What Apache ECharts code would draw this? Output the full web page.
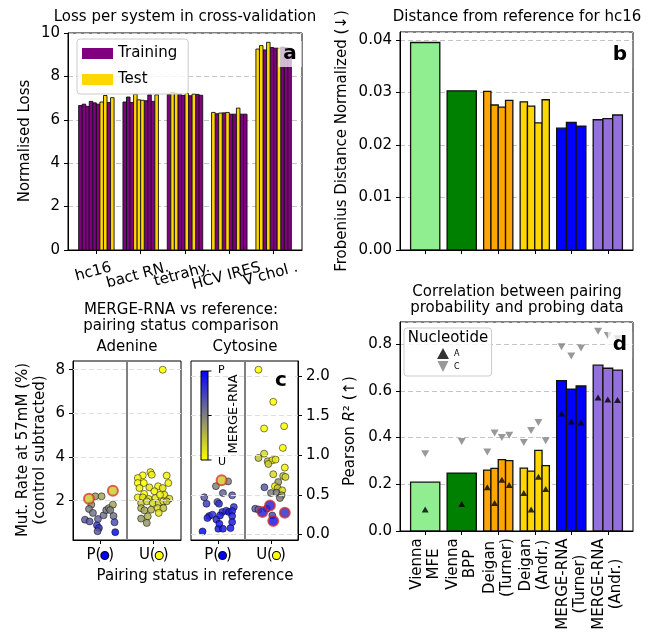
<!DOCTYPE html>
<html><head><meta charset="utf-8">
<script src="https://cdn.jsdelivr.net/npm/echarts@6/dist/echarts.min.js"></script>
<style>html,body{margin:0;padding:0;background:#fff}#c{width:652px;height:633px}</style>
</head><body><div id="c"></div>
<script>
// ---------------- DATA ----------------
// Panel a: loss per system, 10 cross-validation folds each
const systems = ['hc16', 'bact RN.', 'tetrahy.', 'HCV IRES', 'V chol .'];
const lossHc16    = [6.66, 6.72, 6.62, 6.85, 6.78, 6.72, 6.82, 7.12, 6.80, 7.02];
const lossBact    = [6.82, 7.05, 6.80, 7.18, 6.92, 6.90, 6.88, 7.15, 6.85, 7.15];
const lossTetra   = [7.17, 7.26, 7.22, 7.18, 7.12, 7.21, 7.11, 7.18, 7.17, 7.13];
const lossHCV     = [6.34, 6.28, 6.31, 6.32, 6.34, 6.26, 6.26, 6.54, 6.26, 6.26];
const lossVchol   = [9.26, 9.42, 9.22, 9.57, 9.33, 9.30, 9.30, 9.35, 9.32, 9.30];
// 1 = system used as test in that fold, 0 = training
const testHc16  = [0,0,0,0,0,0,1,1,0,1];
const testBact  = [0,0,0,1,1,1,0,0,0,1];
const testTetra = [0,1,1,0,0,1,0,1,0,0];
const testHCV   = [1,0,1,0,1,0,0,1,0,0];
const testVchol = [1,1,0,1,0,0,1,0,0,0];

// Panels b & d: methods
const methods = ['Vienna\nMFE', 'Vienna\nBPP', 'Deigan\n(Turner)', 'Deigan\n(Andr.)', 'MERGE-RNA\n(Turner)', 'MERGE-RNA\n(Andr.)'];
const methodColors = ['#90EE90', '#008000', '#FFA500', '#FFD700', '#0000FF', '#9370DB'];
// Panel b: Frobenius distance
const frobViennaMFE   = [0.0395];
const frobViennaBPP   = [0.0303];
const frobDeiganTurner= [0.0302, 0.0276, 0.0272, 0.0285];
const frobDeiganAndr  = [0.0282, 0.0274, 0.0242, 0.0286];
const frobMergeTurner = [0.0232, 0.0243, 0.0236];
const frobMergeAndr   = [0.0248, 0.0250, 0.0257];
// Panel d: Pearson R^2 (bars = all, A = adenine, C = cytosine)
const r2ViennaMFE    = [0.209];
const r2ViennaBPP    = [0.248];
const r2DeiganTurner = [0.261, 0.268, 0.306, 0.301];
const r2DeiganAndr   = [0.269, 0.256, 0.345, 0.280];
const r2MergeTurner  = [0.644, 0.607, 0.621];
const r2MergeAndr    = [0.710, 0.697, 0.689];
const r2A_ViennaMFE    = [0.092];
const r2A_ViennaBPP    = [0.116];
const r2A_DeiganTurner = [0.187, 0.120, 0.220, 0.197];
const r2A_DeiganAndr   = [0.163, 0.092, 0.232, 0.180];
const r2A_MergeTurner  = [0.503, 0.469, 0.465];
const r2A_MergeAndr    = [0.572, 0.563, 0.561];
const r2C_ViennaMFE    = [0.331];
const r2C_ViennaBPP    = [0.383];
const r2C_DeiganTurner = [0.338, 0.420, 0.400, 0.410];
const r2C_DeiganAndr   = [0.379, 0.430, 0.465, 0.386];
const r2C_MergeTurner  = [0.789, 0.749, 0.784];
const r2C_MergeAndr    = [0.855, 0.837, 0.823];

// Panel c: [jittered x (0=P,1=U), mutation rate, MERGE-RNA unpaired prob, mismatch]
const pairLabels = ['P', 'U'];
const adenineP = [
 [-0.211,2.09,0.8,1],[0.236,2.46,0.8,1],[-0.093,2.20,0.6,0],[0.025,2.20,0.65,0],[-0.168,1.82,0.55,0],
 [-0.211,1.62,0.5,0],[-0.286,1.13,0.35,0],[-0.199,1.05,0.35,0],[-0.043,1.16,0.4,0],[-0.062,0.87,0.25,0],
 [-0.025,0.75,0.2,0],[-0.05,0.60,0.35,0],[0.062,1.33,0.45,0],[0.112,1.57,0.45,0],[0.161,1.66,0.55,0],
 [0.236,1.82,0.65,0],[0.186,1.57,0.5,0],[0.248,1.30,0.45,0],[0.267,1.01,0.3,0],[0.280,0.56,0.05,0],
 [-0.137,1.44,0.45,0]
];
const adenineU = [
 [0.938,3.31,0.95,0],[0.963,3.19,0.95,0],[0.795,3.16,1,0],[0.702,3.04,0.95,0],[1.242,3.15,0.95,0],
 [0.702,2.81,1,0],[0.814,2.81,1,0],[1.273,2.81,0.95,0],[0.733,2.58,0.95,0],[0.919,2.61,0.9,0],
 [1.081,2.66,0.95,0],[1.168,2.58,0.9,0],[0.82,2.31,1,0],[1.012,2.43,0.95,0],[1.199,2.27,0.9,0],
 [0.702,2.15,0.95,0],[0.795,2.15,0.9,0],[0.907,2.08,0.85,0],[1.031,2.12,0.9,0],[1.118,2.27,0.95,0],
 [1.292,2.09,0.85,0],[0.764,1.89,0.8,0],[0.87,1.97,0.85,0],[0.981,1.89,0.85,0],[1.093,1.89,0.8,0],
 [1.18,1.97,0.9,0],[1.242,1.97,0.75,0],[0.764,1.66,0.7,0],[0.826,1.56,0.65,0],[0.95,1.59,0.7,0],
 [1.075,1.66,0.85,0],[1.18,1.66,0.75,0],[1.093,1.44,0.9,0],[0.764,1.18,0.6,0],[0.888,1.28,0.7,0],
 [0.87,0.98,0.6,0],[1.168,8.0,1.0,0]
];
const cytosineP = [
 [0.068,0.684,0.8,1],[0.19,0.67,0.5,0],[-0.04,0.61,0.5,0],[0.093,0.523,0.4,0],[0.267,0.494,0.35,0],
 [-0.26,0.47,0.35,0],[-0.217,0.388,0.25,0],[-0.012,0.41,0.35,0],[0.019,0.388,0.2,0],[0.298,0.346,0.2,0],
 [-0.168,0.232,0.15,0],[-0.2,0.207,0.15,0],[-0.106,0.249,0.2,0],[-0.031,0.19,0.15,0],[0.081,0.283,0.2,0],
 [0.155,0.30,0.2,0],[0.205,0.283,0.1,0],[0.267,0.295,0.15,0],[0.267,0.232,0.15,0],[0.037,0.24,0.1,0],
 [0.267,0.156,0.1,0],[0.006,0.072,0.1,0],[0.093,0.072,0.1,0],[0.236,0.08,0.1,0],[-0.292,0.038,0.05,0],
 [0.025,0.135,0.1,0]
];
const cytosineU = [
 [0.764,2.08,1,0],[1.043,1.675,1,0],[0.87,1.338,1,0],[1.248,1.367,1,0],[1.224,1.093,1,0],
 [0.87,1.02,0.85,0],[0.764,0.966,0.75,0],[0.938,0.924,0.75,0],[1.025,0.937,0.9,0],[1.087,0.945,0.9,0],
 [0.95,0.89,0.8,0],[1.261,0.844,0.95,0],[1.043,0.76,0.85,0],[1.23,0.738,0.75,0],[1.273,0.726,0.85,0],
 [1.137,0.662,0.6,0],[1.075,0.608,0.95,0],[1.124,0.586,0.75,0],[1.211,0.557,0.85,0],[0.876,0.595,0.35,0],
 [1.0,0.523,0.5,0],[1.106,0.527,0.5,0],[1.199,0.494,0.6,0],[1.168,0.46,0.5,0],[0.702,0.325,0.35,0],
 [0.764,0.316,0.4,0],[0.919,0.325,0.2,0],[1.025,0.24,0.3,0],
 [0.839,0.283,0.15,1],[0.981,0.367,0.15,1],[1.043,0.169,0.1,1],[1.261,0.274,0.2,1]
];
const adenineTicks = [2, 4, 6, 8];
const cytosineTicks = [0, 0.5, 1.0, 1.5, 2.0];

// ---------------- HELPERS ----------------
const F = 'DejaVu Sans';
const cmapStops = [[0,0,255],[128,128,128],[255,255,0]];
function cmap(t){
  const s = t <= 0.5 ? 0 : 1;
  const f = t <= 0.5 ? t/0.5 : (t-0.5)/0.5;
  const a = cmapStops[s], b = cmapStops[s+1];
  const c = [0,1,2].map(i => Math.round(a[i] + (b[i]-a[i])*f));
  return 'rgb(' + c.join(',') + ')';
}
function barRender(params, api){
  const x = api.value(0), v = api.value(1), w = api.value(2);
  const p0 = api.coord([x - w/2, v]);
  const p1 = api.coord([x + w/2, 0]);
  const thin = params.seriesName === 'Training' || params.seriesName === 'Test';
  return {type:'rect', shape:{x:p0[0], y:p0[1], width:p1[0]-p0[0], height:p1[1]-p0[1]},
    style:{fill: api.visual('color'), stroke:'#111', lineWidth: thin ? 0.9 : 1.3}};
}
function groupBars(groups, colors){
  const out = [];
  groups.forEach((arr, g) => {
    const n = arr.length, w = 0.8/n;
    arr.forEach((v, j) => {
      const item = {value:[g - 0.4 + w*(j+0.5), v, w]};
      if (colors) item.itemStyle = {color: colors[g]};
      out.push(item);
    });
  });
  return out;
}
function groupPoints(groups){
  const out = [];
  groups.forEach((arr, g) => {
    const n = arr.length, w = 0.8/n;
    arr.forEach((v, j) => out.push([g - 0.4 + w*(j+0.5), v]));
  });
  return out;
}
const lossAll = [lossHc16, lossBact, lossTetra, lossHCV, lossVchol];
const testAll = [testHc16, testBact, testTetra, testHCV, testVchol];
function lossBars(isTest){
  const out = [];
  lossAll.forEach((arr, g) => {
    const n = arr.length, w = 0.8/n;
    arr.forEach((v, j) => { if (testAll[g][j] === isTest) out.push([g - 0.4 + w*(j+0.5), v, w]); });
  });
  return out;
}
const frobGroups = [frobViennaMFE, frobViennaBPP, frobDeiganTurner, frobDeiganAndr, frobMergeTurner, frobMergeAndr];
const r2Groups = [r2ViennaMFE, r2ViennaBPP, r2DeiganTurner, r2DeiganAndr, r2MergeTurner, r2MergeAndr];
const r2AGroups = [r2A_ViennaMFE, r2A_ViennaBPP, r2A_DeiganTurner, r2A_DeiganAndr, r2A_MergeTurner, r2A_MergeAndr];
const r2CGroups = [r2C_ViennaMFE, r2C_ViennaBPP, r2C_DeiganTurner, r2C_DeiganAndr, r2C_MergeTurner, r2C_MergeAndr];

// text measuring (for matplotlib-like label alignment)
const measureCtx = document.createElement('canvas').getContext('2d');
measureCtx.font = '15px "' + F + '"';
const methodRich = {};
methods.forEach((m, i) => {
  const w = Math.max.apply(null, m.split('\n').map(s => measureCtx.measureText(s).width));
  methodRich['m' + i] = {width: Math.ceil(w), align:'center', fontSize:15, fontFamily:F, color:'#000', lineHeight:17};
});
function methodFmt(v){
  const i = Math.round(v);
  return methods[i].split('\n').map(s => '{m' + i + '|' + s + '}').join('\n');
}

const axLine = {show:true, onZero:false, lineStyle:{color:'#000', width:1}};
const tick = {show:true, length:4, lineStyle:{color:'#000', width:1}};
const lab = {color:'#000', fontSize:15, fontFamily:F};
const dashGrid = {show:true, lineStyle:{color:'#c4c4c4', type:[5,3], width:1}};
const gridBox = {show:true, borderColor:'#000', borderWidth:1, backgroundColor:'transparent', containLabel:false};

function scat(data, xi, yi, ring){
  return {type:'scatter', xAxisIndex:xi, yAxisIndex:yi, silent:true, z: ring?5:4,
    symbolSize: ring ? 10 : 7,
    data: data.filter(d => d[3] === (ring?1:0)).map(d => ({value:[d[0], d[1]], itemStyle:{color: cmap(d[2])}})),
    itemStyle:{borderColor: ring ? 'rgba(214,39,40,0.85)' : 'rgba(0,0,0,0.75)', borderWidth: ring ? 2 : 0.8, opacity:0.85}};
}
function cLines(xi, yi, ticks){
  return {type:'scatter', xAxisIndex:xi, yAxisIndex:yi, data:[], silent:true, z:1,
    markLine:{silent:true, symbol:'none', label:{show:false}, animation:false,
      data: ticks.map(t => ({yAxis:t, lineStyle:{color:'#dddddd', type:[5,3], width:1}}))
        .concat([{xAxis:0.5, lineStyle:{color:'#808080', type:'solid', width:2}}])}};
}
const pairRich = {
  pd:{width:7, height:7, borderRadius:4, backgroundColor:'#0000ff', borderColor:'#000', borderWidth:1},
  ud:{width:7, height:7, borderRadius:4, backgroundColor:'#ffff00', borderColor:'#000', borderWidth:1}
};
function pairFmt(v){ const i = Math.round(v); return i === 0 ? 'P({pd|})' : 'U({ud|})'; }

const downTri = 'path://M0,0L10,0L5,10Z';
function txt(id, x, y, text, extra, rot){
  const el = {type:'text', id:id, x:x, y:y, z:100, style:Object.assign({text:text, fontSize:15, fontFamily:F, fill:'#000', align:'center', verticalAlign:'middle'}, extra || {})};
  if (rot) el.rotation = rot;
  return el;
}
function letter(id, x, y, t){
  return txt(id, x, y, t, {fontSize:20, fontWeight:'bold', backgroundColor:'rgba(255,255,255,0.72)', padding:[3,5,3,5]});
}

const option = {
  animation:false,
  backgroundColor:'#fff',
  textStyle:{fontFamily:F},
  grid:[
    Object.assign({left:68, top:33, width:234, height:217}, gridBox),
    Object.assign({left:400, top:32, width:233, height:218}, gridBox),
    Object.assign({left:73, top:361, width:108, height:179}, gridBox),
    Object.assign({left:191, top:361, width:107, height:179}, gridBox),
    Object.assign({left:400, top:322, width:233, height:218}, gridBox)
  ],
  xAxis:[
    {type:'value', gridIndex:0, min:-0.64, max:4.64, axisLine:axLine, splitLine:{show:false},
     axisTick:Object.assign({customValues:[0,1,2,3,4]}, tick), axisLabel:{show:false}},
    {type:'value', gridIndex:1, min:-0.69, max:5.69, axisLine:axLine, splitLine:{show:false},
     axisTick:Object.assign({customValues:[0,1,2,3,4,5]}, tick), axisLabel:{show:false}},
    {type:'value', gridIndex:2, min:-0.51, max:1.51, axisLine:axLine, splitLine:{show:false},
     axisTick:Object.assign({customValues:[0,1]}, tick),
     axisLabel:Object.assign({customValues:[0,1], formatter:pairFmt, rich:pairRich, margin:8, showMinLabel:true, showMaxLabel:true}, lab)},
    {type:'value', gridIndex:3, min:-0.51, max:1.51, axisLine:axLine, splitLine:{show:false},
     axisTick:Object.assign({customValues:[0,1]}, tick),
     axisLabel:Object.assign({customValues:[0,1], formatter:pairFmt, rich:pairRich, margin:8, showMinLabel:true, showMaxLabel:true}, lab)},
    {type:'value', gridIndex:4, min:-0.69, max:5.69, axisLine:axLine, splitLine:{show:false},
     axisTick:Object.assign({customValues:[0,1,2,3,4,5]}, tick),
     axisLabel:Object.assign({customValues:[0,1,2,3,4,5], formatter:methodFmt, rich:methodRich, rotate:90, margin:7, lineHeight:17,
       showMinLabel:true, showMaxLabel:true, hideOverlap:false}, lab)}
  ],
  yAxis:[
    {type:'value', gridIndex:0, min:0, max:10, interval:2, axisLine:axLine, axisTick:tick, axisLabel:lab, splitLine:dashGrid},
    {type:'value', gridIndex:1, min:0, max:0.0415, interval:0.01, axisLine:axLine, axisTick:tick,
     axisLabel:Object.assign({formatter:v => v.toFixed(2), showMaxLabel:false}, lab), splitLine:dashGrid},
    {type:'value', gridIndex:2, min:0.2, max:8.4, axisLine:axLine, splitLine:{show:false},
     axisTick:Object.assign({customValues:adenineTicks}, tick),
     axisLabel:Object.assign({customValues:adenineTicks, formatter:v => String(Math.round(v))}, lab)},
    {type:'value', gridIndex:3, position:'right', min:-0.07, max:2.19, axisLine:axLine, splitLine:{show:false},
     axisTick:Object.assign({customValues:cytosineTicks}, tick),
     axisLabel:Object.assign({customValues:cytosineTicks, formatter:v => v.toFixed(1)}, lab)},
    {type:'value', gridIndex:4, min:0, max:0.895, interval:0.2, axisLine:axLine, axisTick:tick,
     axisLabel:Object.assign({formatter:v => v.toFixed(1), showMaxLabel:false}, lab), splitLine:dashGrid}
  ],
  legend:[
    {left:77, top:39, orient:'vertical', selectedMode:false,
     data:[{name:'Training', icon:'rect'}, {name:'Test', icon:'rect'}],
     itemWidth:31, itemHeight:11, itemGap:11, padding:[7,11,7,5],
     backgroundColor:'rgba(255,255,255,0.8)', borderColor:'#cccccc', borderWidth:1, borderRadius:3,
     itemStyle:{borderWidth:0}, textStyle:{fontSize:15, fontFamily:F, color:'#000'}},
    {left:404, top:328, orient:'vertical', selectedMode:false,
     data:[{name:'A', icon:'triangle'}, {name:'C', icon:downTri}],
     itemWidth:12, itemHeight:11, itemGap:2, padding:[20,32,4,33],
     backgroundColor:'rgba(255,255,255,0.8)', borderColor:'#cccccc', borderWidth:1, borderRadius:3,
     itemStyle:{borderWidth:0}, textStyle:{fontSize:8, fontFamily:F, color:'#000'}}
  ],
  series:[
    {type:'custom', name:'Training', xAxisIndex:0, yAxisIndex:0, renderItem:barRender, clip:true,
     itemStyle:{color:'#800080'}, data:lossBars(0), z:2},
    {type:'custom', name:'Test', xAxisIndex:0, yAxisIndex:0, renderItem:barRender, clip:true,
     itemStyle:{color:'#FFD700'}, data:lossBars(1), z:2},
    {type:'custom', name:'frob', xAxisIndex:1, yAxisIndex:1, renderItem:barRender, clip:true,
     data:groupBars(frobGroups, methodColors), z:2},
    {type:'custom', name:'r2', xAxisIndex:4, yAxisIndex:4, renderItem:barRender, clip:true,
     data:groupBars(r2Groups, methodColors), z:2},
    {type:'scatter', name:'A', xAxisIndex:4, yAxisIndex:4, symbol:'triangle', symbolSize:[7,6],
     itemStyle:{color:'#000'}, data:groupPoints(r2AGroups), z:3, silent:true},
    {type:'scatter', name:'C', xAxisIndex:4, yAxisIndex:4, symbol:downTri, symbolSize:[8,7],
     itemStyle:{color:'#808080'}, data:groupPoints(r2CGroups), z:3, silent:true},
    cLines(2, 2, adenineTicks),
    cLines(3, 3, cytosineTicks),
    scat(adenineP, 2, 2, false), scat(adenineU, 2, 2, false),
    scat(cytosineP, 3, 3, false), scat(cytosineU, 3, 3, false),
    scat(adenineP, 2, 2, true), scat(adenineU, 2, 2, true),
    scat(cytosineP, 3, 3, true), scat(cytosineU, 3, 3, true)
  ],
  graphic:[
    txt('t1', 185, 17, 'Loss per system in cross-validation'),
    txt('t2', 517, 17, 'Distance from reference for hc16'),
    txt('t3', 517, 300, 'Correlation between pairing\nprobability and probing data', {lineHeight:16.5}),
    txt('t4', 181, 318, 'MERGE-RNA vs reference:\npairing status comparison', {lineHeight:16.5}),
    txt('t5', 127, 347, 'Adenine'),
    txt('t6', 245, 347, 'Cytosine'),
    txt('y1', 25, 141, 'Normalised Loss', null, Math.PI/2),
    txt('y2', 342, 141, 'Frobenius Distance Normalized (\u2193)', null, Math.PI/2),
    txt('y3', 32, 450, 'Mut. Rate at 57mM (%)\n(control subtracted)', {lineHeight:17}, Math.PI/2),
    txt('y4', 350, 431, '{n|Pearson }{i|R}{n|\u00b2 (\u2191)}',
      {rich:{n:{fontSize:15, fontFamily:F, fill:'#000'}, i:{fontSize:15, fontFamily:F, fontStyle:'italic', fill:'#000'}}}, Math.PI/2),
    txt('x3', 195, 576, 'Pairing status in reference'),
    txt('lg', 448, 338, 'Nucleotide'),
    {type:'rect', id:'cb', z:50, shape:{x:201, y:371, width:7, height:89},
     style:{fill:{type:'linear', x:0, y:0, x2:0, y2:1, colorStops:[{offset:0, color:'#0000ff'},{offset:0.5, color:'#808080'},{offset:1, color:'#ffff00'}]}, stroke:'#000', lineWidth:1}},
    {type:'line', id:'cbt1', z:50, shape:{x1:208, y1:371, x2:211.5, y2:371}, style:{stroke:'#000', lineWidth:1}},
    {type:'line', id:'cbt2', z:50, shape:{x1:208, y1:415.5, x2:211.5, y2:415.5}, style:{stroke:'#000', lineWidth:1}},
    {type:'line', id:'cbt3', z:50, shape:{x1:208, y1:460, x2:211.5, y2:460}, style:{stroke:'#000', lineWidth:1}},
    txt('cbP', 218, 370, 'P', {fontSize:11, align:'left'}),
    txt('cbU', 218, 462, 'U', {fontSize:11, align:'left'}),
    txt('cbL', 234, 414, 'MERGE-RNA', {fontSize:13}, Math.PI/2),
    letter('la', 290, 54, 'a'),
    letter('lb', 620, 55, 'b'),
    letter('lc', 281, 381, 'c'),
    letter('ld', 620, 345, 'd')
  ]
};
const chart = echarts.init(document.getElementById('c'), null, {renderer:'canvas'});
chart.setOption(option);
// Panel a category labels, placed at the x-axis scale positions; rotated 15 deg with
// the rotated bounding box hanging below the tick (matplotlib-style)
const rot = 15 * Math.PI / 180;
const sysLabels = systems.map((s, i) => {
  const p = chart.convertToPixel({xAxisIndex:0, yAxisIndex:0}, [i, 0]);
  const w = measureCtx.measureText(s).width;
  const bboxH = w * Math.sin(rot) + 17 * Math.cos(rot);
  return txt('sys' + i, p[0] - 3, p[1] + 9 + bboxH / 2, s, null, rot);
});
chart.setOption({graphic: sysLabels});
</script>
</body></html>
